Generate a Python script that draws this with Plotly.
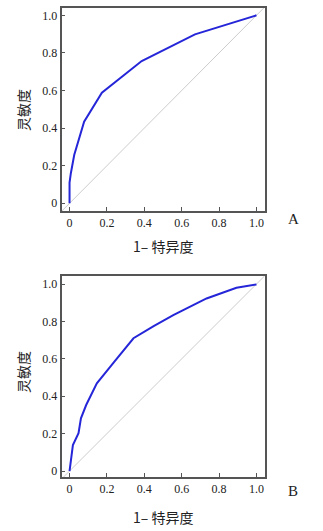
import plotly.graph_objects as go

# ROC curve A
fpr_a = [0, 0, 0.007, 0.025, 0.078, 0.173, 0.386, 0.671, 1.0]
tpr_a = [0, 0.11, 0.16, 0.257, 0.434, 0.588, 0.757, 0.899, 1.0]
# ROC curve B
fpr_b = [0, 0.009, 0.018, 0.048, 0.061, 0.089, 0.146, 0.24, 0.342, 0.45, 0.555, 0.733, 0.893, 1.0]
tpr_b = [0, 0.068, 0.139, 0.202, 0.282, 0.353, 0.469, 0.585, 0.71, 0.775, 0.834, 0.923, 0.98, 0.998]
# reference line
diag = [-0.05, 1.05]

tick_vals = [0, 0.2, 0.4, 0.6, 0.8, 1.0]
tick_text = ["0", "0.2", "0.4", "0.6", "0.8", "1.0"]
panel_labels = ["A", "B"]
x_title = "1– 特异度"
y_title = "灵敏度"

W, H = 323, 531
fig = go.Figure()

line_color = "#2626d9"
serif = "Liberation Serif"
cjk = "Noto Sans CJK SC"

domains_y = [[1 - 211 / H, 1 - 8 / H], [1 - 477 / H, 1 - 276 / H]]
xdom = [61.5 / W, 264.5 / W]

for i, (fx, ty) in enumerate([(fpr_a, tpr_a), (fpr_b, tpr_b)]):
    sfx = "" if i == 0 else "2"
    fig.add_trace(go.Scatter(x=diag, y=diag, mode="lines",
                             line=dict(color="#cccccc", width=1),
                             xaxis="x" + sfx, yaxis="y" + sfx, showlegend=False))
    fig.add_trace(go.Scatter(x=fx, y=ty, mode="lines",
                             line=dict(color=line_color, width=2),
                             xaxis="x" + sfx, yaxis="y" + sfx, showlegend=False))

axis_common = dict(
    showline=True, mirror=True, linecolor="#555555", linewidth=1.5,
    ticks="inside", ticklen=4, tickcolor="#555555", tickwidth=1,
    tickvals=tick_vals, ticktext=tick_text, showgrid=False, zeroline=False,
    tickfont=dict(family=serif, size=12, color="#222222"),
)

fig.update_layout(
    width=W, height=H, margin=dict(l=0, r=0, t=0, b=0),
    paper_bgcolor="white", plot_bgcolor="white",
    xaxis=dict(domain=xdom, range=[-0.043, 1.043], anchor="y", **axis_common),
    yaxis=dict(domain=domains_y[0], range=[-0.041, 1.039], anchor="x", **axis_common),
    xaxis2=dict(domain=xdom, range=[-0.043, 1.043], anchor="y2", **axis_common),
    yaxis2=dict(domain=domains_y[1], range=[-0.032, 1.043], anchor="x2", **axis_common),
)

annots = []
for i, (lab, yx, yy, ly) in enumerate([(panel_labels[0], 246, 110, 219),
                                        (panel_labels[1], 517, 372, 491)]):
    annots.append(dict(text=x_title, x=163 / W, y=1 - yx / H, xref="paper", yref="paper",
                       showarrow=False, xanchor="center", yanchor="middle",
                       font=dict(family=cjk, size=14, color="#222222")))
    annots.append(dict(text=y_title, x=23 / W, y=1 - yy / H, xref="paper", yref="paper",
                       showarrow=False, xanchor="center", yanchor="middle", textangle=-90,
                       font=dict(family=cjk, size=14, color="#222222")))
    annots.append(dict(text=lab, x=293 / W, y=1 - ly / H, xref="paper", yref="paper",
                       showarrow=False, xanchor="center", yanchor="middle",
                       font=dict(family=serif, size=15, color="#222222")))
fig.update_layout(annotations=annots)

fig.write_html("out.html")
